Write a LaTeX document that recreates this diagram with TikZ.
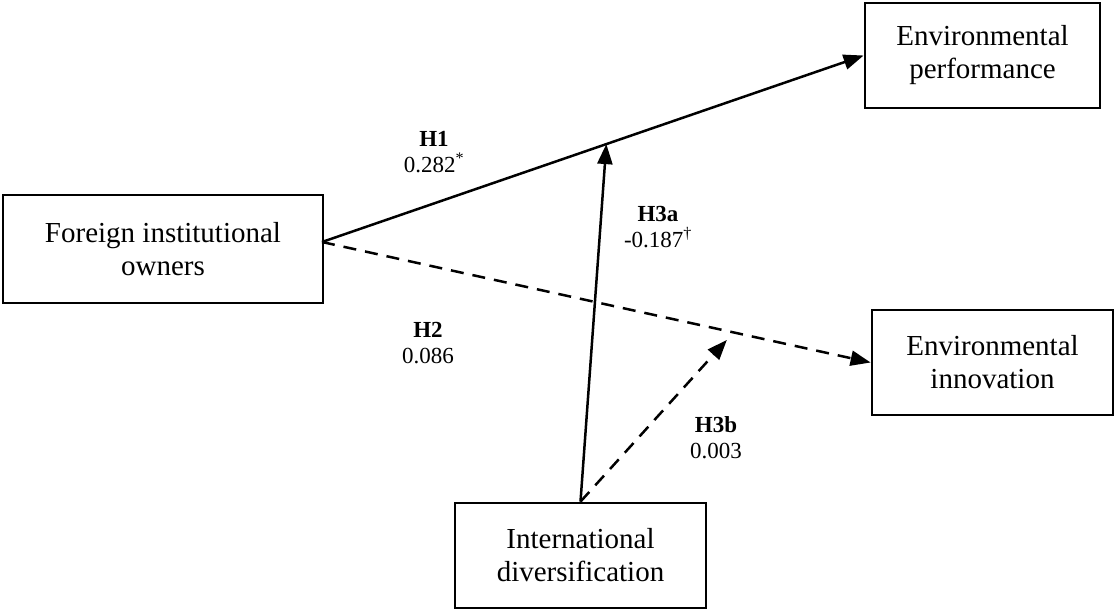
\documentclass[tikz,border=0pt]{standalone}
\usepackage{fontspec}
\setmainfont{Liberation Serif}
\usetikzlibrary{arrows.meta,calc}
\begin{document}
\begin{tikzpicture}[x=1pt,y=-1pt,
  varbox/.style={draw,line width=2.8pt,inner sep=0pt,align=center,
    font=\fontsize{29}{33}\selectfont},
  lbl/.style={align=center,inner sep=0pt,font=\fontsize{23}{26}\selectfont},
  path/.style={line width=2.5pt,-{Triangle[length=20pt,width=15pt]}},
  dpath/.style={path,dash pattern=on 13pt off 9pt}]
\useasboundingbox (0,0) rectangle (1115,611);
\node[varbox,minimum width=320pt,minimum height=108pt] (fio) at (163,249) {Foreign institutional\\owners};
\node[varbox,minimum width=235pt,minimum height=105pt] (perf) at (982.5,55.5) {Environmental\\performance};
\node[varbox,minimum width=241pt,minimum height=105pt] (innov) at (992.5,362.5) {Environmental\\innovation};
\node[varbox,minimum width=251pt,minimum height=105pt] (intl) at (580.5,555.5) {International\\diversification};
\coordinate (s) at (322,242);
\coordinate (m1) at ($(s)!0.525!(perf.west)$);
\coordinate (m2) at ($(s)!0.738!(innov.west)+(0,9)$);
\draw[path] (s) -- (perf.west);
\draw[dpath] (s) -- (innov.west);
\draw[path] (intl.north) -- (m1);
\draw[dpath] (intl.north) -- (m2);
\node[lbl] (l1) at (434,152) {\textbf{H1}\\0.282\textsuperscript{*}};
\node[lbl] (l2) at (428,343) {\textbf{H2}\\0.086};
\node[lbl] (l3a) at (658,227) {\textbf{H3a}\\-0.187\textsuperscript{†}};
\node[lbl] (l3b) at (716,438) {\textbf{H3b}\\0.003};
\end{tikzpicture}
\end{document}
